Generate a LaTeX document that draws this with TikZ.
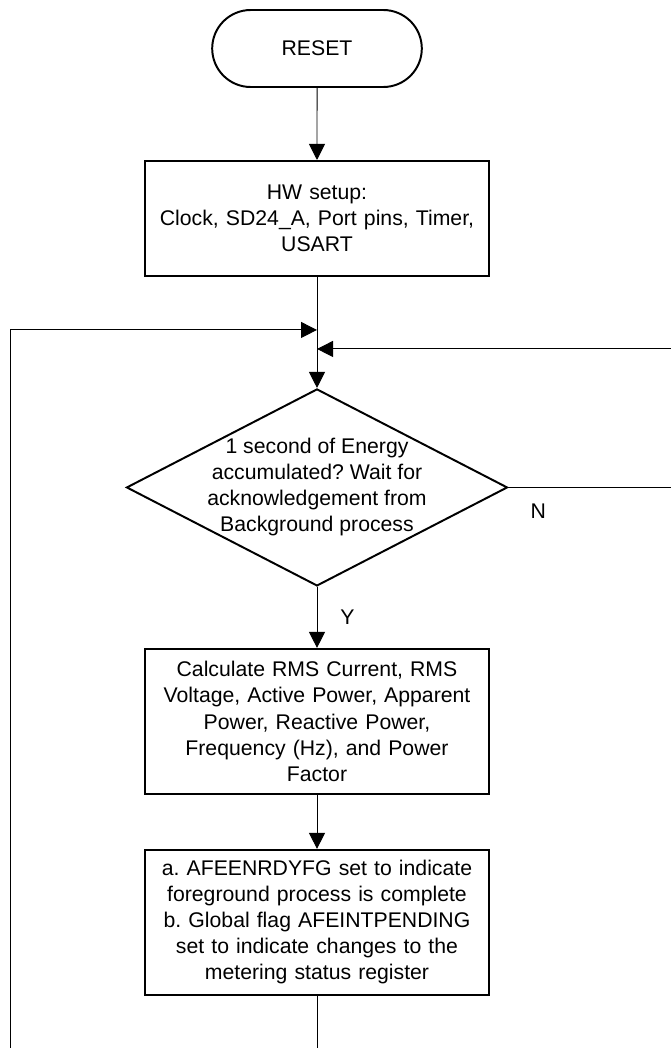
\documentclass[tikz,border=0pt]{standalone}
\usepackage{fontspec}
\setmainfont{Liberation Sans}
\usetikzlibrary{positioning,shapes.geometric,shapes.misc,arrows.meta}

\tikzset{
	terminal/.style={rounded rectangle, draw, line width=1.4pt, minimum width=5.475cm, minimum height=1.925cm},
	block/.style={rectangle, draw, line width=1.4pt, minimum width=8.6cm, text width=8.2cm, align=center, inner sep=0.2cm},
	decision/.style={diamond, draw, line width=1.4pt, aspect=1.934, inner sep=-0.14cm, minimum width=9.525cm, minimum height=4.925cm, align=center},
	flow/.style={line width=0.7pt, -{Triangle[length=0.4cm,width=0.4cm]}},
	wire/.style={line width=0.7pt},
	tag/.style={inner sep=0pt}
}
\frenchspacing

\begin{document}
\begin{tikzpicture}[font=\fontsize{15.1}{18.5}\selectfont]
{
	\useasboundingbox (0,0) rectangle (16.775,-26.2);
	\node[terminal] (Reset) at (7.925,-1.2125) {RESET};
	\node[block, minimum height=2.875cm, below=1.8cm of Reset] (Setup) {HW setup:\\ Clock, SD24\_A, Port pins, Timer,\\ USART};
	\coordinate[below=1.325cm of Setup.south] (JoinA);
	\coordinate[below=1.8cm of Setup.south] (JoinB);
	\node[decision, below=2.775cm of Setup] (Check) {1 second of Energy\\ accumulated? Wait for\\ acknowledgement from\\ Background process};
	\node[block, minimum height=3.625cm, below=1.525cm of Check] (Calc) {Calculate RMS Current, RMS\\ Voltage, Active Power, Apparent\\ Power, Reactive Power,\\ Frequency (Hz), and Power\\ Factor};
	\node[block, minimum height=3.625cm, below=1.35cm of Calc] (Flags) {a. AFEENRDYFG set to indicate\\ foreground process is complete\\ b. Global flag AFEINTPENDING\\ set to indicate changes to the\\ metering status register};
	\coordinate[below=1.525cm of Flags.south] (Bottom);
	\coordinate (LeftEdge) at (0.2675,-26.2);
	\coordinate (RightEdge) at (16.775,-8.65);

	\draw[flow] (Reset) -- (Setup);
	\draw[flow] (Setup) -- (Check);
	\draw[flow] (Check) -- node[tag, midway, right=0.575cm] (Yes) {Y} (Calc);
	\draw[flow] (Calc) -- (Flags);
	\draw[wire] (Flags) -- (Bottom);
	\draw[flow] (LeftEdge) |- (JoinA);
	\draw[wire] (Check.east) -- node[tag, pos=0.184, below=0.4cm] (No) {N} (Check.east -| RightEdge);
	\draw[flow] (RightEdge |- JoinB) -- (JoinB);
}
\end{tikzpicture}
\end{document}
